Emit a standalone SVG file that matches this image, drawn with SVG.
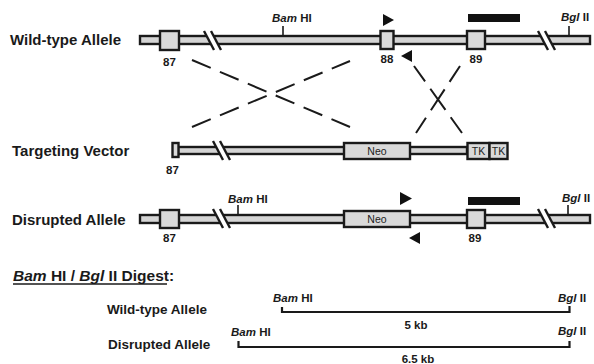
<svg xmlns="http://www.w3.org/2000/svg" width="594" height="364" viewBox="0 0 594 364">
<style>
.bar{fill:#d4d4d4;stroke:#1a1a1a;stroke-width:2.4}
.box{fill:#d9d9d9;stroke:#1a1a1a;stroke-width:2.4}
.gap{fill:#fff;stroke:none}
.bl{stroke:#1a1a1a;stroke-width:2.4;fill:none}
.tick{stroke:#1a1a1a;stroke-width:1.6}
.lbl{font-family:"Liberation Sans",Arial,sans-serif;font-weight:bold;fill:#1a1a1a}
.row{font-size:15px}
.num{font-size:11.5px;text-anchor:middle}
.site{font-size:11.5px}
.ins{font-family:"Liberation Sans",Arial,sans-serif;font-size:10.5px;fill:#222;text-anchor:middle}
.cross{stroke:#1a1a1a;stroke-width:2;fill:none}
.probe{fill:#111}
.bracket{stroke:#1a1a1a;stroke-width:2.2;fill:none}
</style>
<defs>
<g id="brk">
<polygon class="gap" points="0,0 7,0 17,19 10,19"/>
<line class="bl" x1="0" y1="0" x2="10" y2="19"/>
<line class="bl" x1="7" y1="0" x2="17" y2="19"/>
</g>
</defs>

<g id="wildtype">
<text class="lbl row" x="10" y="45">Wild-type Allele</text>
<rect class="bar" x="140" y="36" width="450" height="8"/>
<use href="#brk" x="204" y="31"/>
<use href="#brk" x="538" y="31"/>
<rect class="box" x="160" y="31" width="19" height="19"/>
<rect class="box" x="380.5" y="31" width="13" height="18"/>
<rect class="box" x="467" y="31" width="18" height="18"/>
<line class="tick" x1="283" y1="26" x2="283" y2="35"/>
<line class="tick" x1="569" y1="26" x2="569" y2="35"/>
<text class="lbl site" x="272" y="22"><tspan font-style="italic">Bam</tspan> HI</text>
<text class="lbl site" x="561" y="21"><tspan font-style="italic">Bgl</tspan> II</text>
<rect class="probe" x="468" y="14" width="52" height="8"/>
<polygon class="probe" points="383,14 383,26 394,20"/>
<polygon class="probe" points="412,50 412,62 401,56"/>
<text class="lbl num" x="169.5" y="66">87</text>
<text class="lbl num" x="387" y="63">88</text>
<text class="lbl num" x="476" y="63">89</text>
</g>

<g id="connectors">
<line class="cross" x1="192" y1="60" x2="350" y2="127" stroke-dasharray="20.3,10"/>
<line class="cross" x1="192" y1="127" x2="350" y2="61" stroke-dasharray="20.3,10"/>
<line class="cross" x1="414" y1="66" x2="462" y2="133" stroke-dasharray="19,9,26,9,19.4"/>
<line class="cross" x1="460" y1="66" x2="416" y2="133" stroke-dasharray="19,9,25,9,18.2"/>
</g>

<g id="vector">
<text class="lbl row" x="12" y="156">Targeting Vector</text>
<rect class="bar" x="178" y="147" width="289" height="7"/>
<rect class="box" x="172.5" y="143" width="6" height="14"/>
<use href="#brk" x="213" y="141"/>
<rect class="box" x="344" y="143" width="66" height="16"/>
<text class="ins" x="377" y="155">Neo</text>
<rect class="box" x="467.5" y="143" width="22" height="16"/>
<rect class="box" x="489.5" y="143" width="18" height="16"/>
<text class="ins" x="478.5" y="155">TK</text>
<text class="ins" x="498.5" y="155">TK</text>
<text class="lbl num" x="172.5" y="174">87</text>
</g>

<g id="disrupted">
<text class="lbl row" x="12" y="225">Disrupted Allele</text>
<rect class="bar" x="140" y="215" width="450" height="8"/>
<use href="#brk" x="213" y="209"/>
<use href="#brk" x="538" y="209"/>
<rect class="box" x="160" y="210" width="19" height="18"/>
<rect class="box" x="344" y="211" width="66" height="16"/>
<text class="ins" x="377" y="223">Neo</text>
<rect class="box" x="467" y="210" width="18" height="18"/>
<line class="tick" x1="238" y1="205" x2="238" y2="214"/>
<line class="tick" x1="568" y1="205" x2="568" y2="214"/>
<text class="lbl site" x="228" y="203"><tspan font-style="italic">Bam</tspan> HI</text>
<text class="lbl site" x="562" y="202"><tspan font-style="italic">Bgl</tspan> II</text>
<rect class="probe" x="468" y="197" width="52" height="8"/>
<polygon class="probe" points="400,192 400,205 412,198.5"/>
<polygon class="probe" points="420,232 420,244 409,238"/>
<text class="lbl num" x="169.5" y="242">87</text>
<text class="lbl num" x="475" y="242">89</text>
</g>

<g id="digest-title">
<text class="lbl" x="13" y="281" font-size="15.5px"><tspan font-style="italic">Bam</tspan> HI / <tspan font-style="italic">Bgl</tspan> II Digest:</text>
<line x1="13" y1="284" x2="167" y2="284" stroke="#1a1a1a" stroke-width="1.3"/>
</g>

<g id="digest-wildtype">
<text class="lbl" x="107" y="314" font-size="13.5px">Wild-type Allele</text>
<path class="bracket" d="M282,307 V312 H569.5 V306"/>
<text class="lbl site" x="273" y="302"><tspan font-style="italic">Bam</tspan> HI</text>
<text class="lbl site" x="558" y="302"><tspan font-style="italic">Bgl</tspan> II</text>
<text class="lbl num" x="416" y="329">5 kb</text>
</g>

<g id="digest-disrupted">
<text class="lbl" x="108" y="349" font-size="13.5px">Disrupted Allele</text>
<path class="bracket" d="M238.5,341 V347 H569.5 V341"/>
<text class="lbl site" x="231" y="336"><tspan font-style="italic">Bam</tspan> HI</text>
<text class="lbl site" x="558" y="335"><tspan font-style="italic">Bgl</tspan> II</text>
<text class="lbl num" x="418" y="363">6.5 kb</text>
</g>
</svg>
